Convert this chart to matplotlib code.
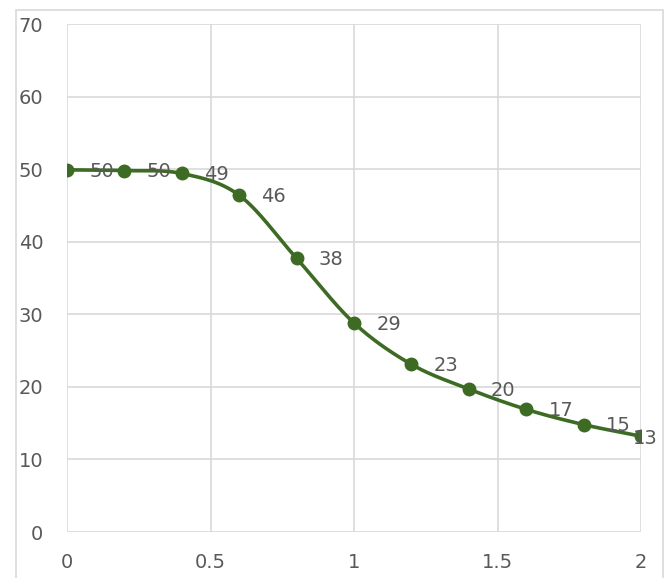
import numpy as np
import matplotlib.pyplot as plt
from matplotlib.patches import Rectangle

# data
x_vals = [0.0, 0.2, 0.4, 0.6, 0.8, 1.0, 1.2, 1.4, 1.6, 1.8, 2.0]
y_vals = [49.9, 49.8, 49.4, 46.4, 37.7, 28.8, 23.1, 19.7, 16.9, 14.8, 13.2]
x_ticks = [0, 0.5, 1, 1.5, 2]
x_ticklabels = ["0", "0.5", "1", "1.5", "2"]
y_ticks = [0, 10, 20, 30, 40, 50, 60, 70]

green = "#3d6b24"
grey_txt = "#595959"
grid_col = "#d9d9d9"


def smooth(xs, ys, n=30):
    # Catmull-Rom style smoothing, like Excel's "smoothed line"
    px = np.array(xs, dtype=float)
    py = np.array(ys, dtype=float)
    px = np.concatenate([[2*px[0]-px[1]], px, [2*px[-1]-px[-2]]])
    py = np.concatenate([[2*py[0]-py[1]], py, [2*py[-1]-py[-2]]])
    out_x, out_y = [], []
    t = np.linspace(0, 1, n)
    for i in range(1, len(px)-2):
        for arr, out in ((px, out_x), (py, out_y)):
            p0, p1, p2, p3 = arr[i-1], arr[i], arr[i+1], arr[i+2]
            seg = 0.5*((2*p1) + (-p0+p2)*t + (2*p0-5*p1+4*p2-p3)*t**2
                       + (-p0+3*p1-3*p2+p3)*t**3)
            out.extend(seg)
    return np.array(out_x), np.array(out_y)


fig = plt.figure(figsize=(6.7, 5.78), dpi=100, facecolor="white")
ax = fig.add_axes([67/670, 1-532/578, (641-67)/670, (532-24)/578])

# chart border (screenshot is cropped at the bottom)
fig.patches.append(Rectangle((16/670, -0.1), (663-16)/670, 1+0.1-10/578,
                             transform=fig.transFigure, fill=False,
                             edgecolor=grid_col, linewidth=1.2))

sx, sy = smooth(x_vals, y_vals)
ax.plot(sx, sy, color=green, linewidth=2.6, zorder=3)
ax.plot(x_vals, y_vals, "o", color=green, markersize=9, zorder=4)

for i, (xv, yv) in enumerate(zip(x_vals, y_vals)):
    off = (16, -1) if i < len(x_vals)-1 else (-6, -2)
    ax.annotate("%d" % round(yv), (xv, yv), xytext=off, textcoords="offset points",
                ha="left", va="center", fontsize=14, color=grey_txt, zorder=5)

ax.set_xlim(0, 2)
ax.set_ylim(0, 70)
ax.set_xticks(x_ticks)
ax.set_xticklabels(x_ticklabels)
ax.set_yticks(y_ticks)
ax.grid(True, color=grid_col, linewidth=1.2)
ax.set_axisbelow(True)
for s in ax.spines.values():
    s.set_visible(False)
ax.tick_params(length=0, labelsize=14, colors=grey_txt)
ax.tick_params(axis="x", pad=15)
ax.tick_params(axis="y", pad=17)

plt.savefig("out.png", dpi=100)
